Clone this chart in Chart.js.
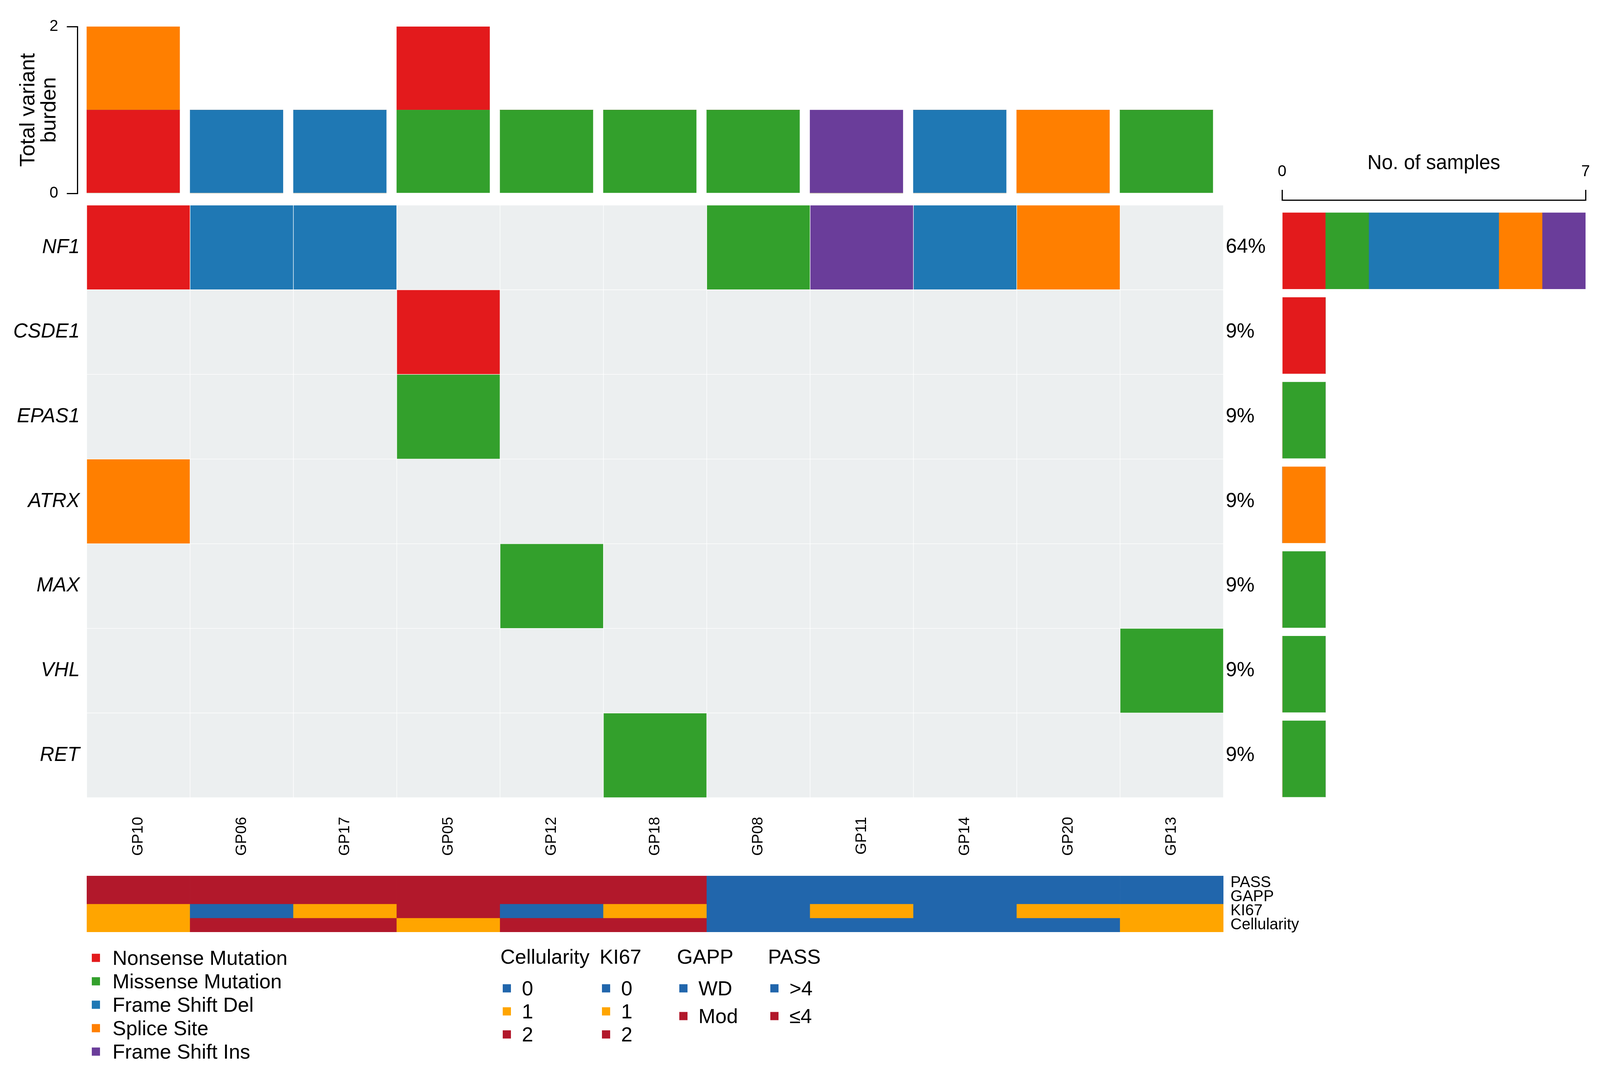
<!DOCTYPE html>
<html>
<head>
<meta charset="utf-8">
<script src="https://cdn.jsdelivr.net/npm/chart.js@4.4.1/dist/chart.umd.min.js"></script>
<style>
  html, body { margin: 0; padding: 0; background: #fff; }
  body { width: 4099px; height: 2757px; position: relative; overflow: hidden;
         font-family: "Liberation Sans", Arial, sans-serif; color: #000; }
  canvas { position: absolute; }
  .lg { position: absolute; font-size: 52px; line-height: 1; white-space: nowrap; transform: translateY(-50%); }
  .sw { position: absolute; width: 21px; height: 21px; transform: translateY(-50%); }
</style>
</head>
<body>
<canvas id="burden" width="3140" height="520" style="left:0;top:0"></canvas>
<canvas id="heat" width="3300" height="1720" style="left:0;top:500px"></canvas>
<canvas id="counts" width="849" height="1720" style="left:3250px;top:350px"></canvas>
<canvas id="tracks" width="3400" height="220" style="left:0;top:2200px"></canvas>
<div id="legend"></div>
<script>
// ---- data ----
const samples = ["GP10", "GP06", "GP17", "GP05", "GP12", "GP18", "GP08", "GP11", "GP14", "GP20", "GP13"];
const genes = ["NF1", "CSDE1", "EPAS1", "ATRX", "MAX", "VHL", "RET"];
const genePct = ["64%", "9%", "9%", "9%", "9%", "9%", "9%"];

const variantTypes = ["Nonsense_Mutation", "Missense_Mutation", "Frame_Shift_Del", "Splice_Site", "Frame_Shift_Ins"];
const variantLabels = ["Nonsense Mutation", "Missense Mutation", "Frame Shift Del", "Splice Site", "Frame Shift Ins"];
const variantColors = ["#E31A1C", "#33A02C", "#1F78B4", "#FF7F00", "#6A3D9A"];
// order the variants are piled up in the top burden bars
const burdenStackOrder = ["Missense_Mutation", "Nonsense_Mutation", "Frame_Shift_Del", "Splice_Site", "Frame_Shift_Ins"];

// one call per sample ("" = no variant)
const NF1   = ["Nonsense_Mutation", "Frame_Shift_Del", "Frame_Shift_Del", "", "", "", "Missense_Mutation", "Frame_Shift_Ins", "Frame_Shift_Del", "Splice_Site", ""];
const CSDE1 = ["", "", "", "Nonsense_Mutation", "", "", "", "", "", "", ""];
const EPAS1 = ["", "", "", "Missense_Mutation", "", "", "", "", "", "", ""];
const ATRX  = ["Splice_Site", "", "", "", "", "", "", "", "", "", ""];
const MAX   = ["", "", "", "", "Missense_Mutation", "", "", "", "", "", ""];
const VHL   = ["", "", "", "", "", "", "", "", "", "", "Missense_Mutation"];
const RET   = ["", "", "", "", "", "Missense_Mutation", "", "", "", "", ""];
const geneCalls = [NF1, CSDE1, EPAS1, ATRX, MAX, VHL, RET];

const burdenTicks = [0, 2];
const sampleCountTicks = [0, 7];

// clinical annotation tracks
const trackNames = ["PASS", "GAPP", "KI67", "Cellularity"];
const PASS = ["≤4", "≤4", "≤4", "≤4", "≤4", "≤4", ">4", ">4", ">4", ">4", ">4"];
const GAPP = ["Mod", "Mod", "Mod", "Mod", "Mod", "Mod", "WD", "WD", "WD", "WD", "WD"];
const KI67 = ["1", "0", "1", "2", "0", "1", "0", "1", "0", "1", "1"];
const Cellularity = ["1", "2", "2", "1", "2", "2", "0", "0", "0", "0", "1"];

const levelKeys = ["0", "1", "2"];
const levelColors = ["#2166AC", "#FFA500", "#B2182B"];
const gappKeys = ["WD", "Mod"];
const gappColors = ["#2166AC", "#B2182B"];
const passKeys = [">4", "≤4"];
const passColors = ["#2166AC", "#B2182B"];

const emptyCell = "#ECEFF0";

Chart.defaults.font.family = '"Liberation Sans", Arial, sans-serif';
Chart.defaults.color = "#000";
const noPlugins = { legend: { display: false }, tooltip: { enabled: false } };
const noGrid = { display: false, drawTicks: false };

function colorOf(type) {
  return type ? variantColors[variantTypes.indexOf(type)] : emptyCell;
}
// fixed axis size, no extra room for half labels at the ends
function fixWidth(w) {
  return s => { s.width = w; s.paddingTop = 0; s.paddingBottom = 0; };
}
function fixHeight(h) {
  return s => { s.height = h; s.paddingLeft = 0; s.paddingRight = 0; };
}

// ---- top: total variant burden per sample ----
new Chart(document.getElementById("burden"), {
  type: "bar",
  data: {
    datasets: burdenStackOrder.map(t => ({
      label: t,
      data: samples.map((s, i) => ({ x: i, y: geneCalls.filter(g => g[i] === t).length })),
      backgroundColor: colorOf(t),
      borderWidth: 0,
      barThickness: 238
    }))
  },
  options: {
    animation: false,
    responsive: false,
    layout: { padding: { top: 68, bottom: 25, left: 0, right: 8 } },
    plugins: noPlugins,
    scales: {
      x: { type: "linear", min: -0.541, max: 10.552, offset: false, stacked: true, display: false },
      y: {
        min: 0, max: 2, stacked: true,
        afterBuildTicks: s => { s.ticks = burdenTicks.map(v => ({ value: v })); },
        afterFit: fixWidth(198),
        grid: { drawOnChartArea: false, tickLength: 27, color: "#000", lineWidth: 3 },
        border: { color: "#000", width: 3 },
        ticks: { font: { size: 40 }, color: "#000", padding: 22 },
        title: {
          display: true, text: ["Total variant", "burden"], color: "#000",
          font: { size: 54, lineHeight: 1.0 }, padding: { top: 46, bottom: 0 }
        }
      }
    }
  }
});

// ---- oncoplot matrix ----
new Chart(document.getElementById("heat"), {
  type: "bar",
  data: {
    labels: samples,
    datasets: genes.map((g, r) => ({
      label: g,
      data: samples.map(() => 1),
      backgroundColor: geneCalls[r].map(colorOf),
      borderColor: "rgba(255,255,255,0.7)",
      borderWidth: 1,
      borderSkipped: false,
      barPercentage: 1,
      categoryPercentage: 1
    }))
  },
  options: {
    animation: false,
    responsive: false,
    layout: { padding: { top: 25, left: 0, right: 0, bottom: 0 } },
    plugins: noPlugins,
    scales: {
      x: {
        stacked: true,
        grid: noGrid, border: { display: false },
        ticks: { font: { size: 39 }, color: "#000", minRotation: 90, maxRotation: 90, autoSkip: false, padding: 49 },
        afterFit: fixHeight(178)
      },
      y: { stacked: true, min: 0, max: 7, reverse: true, display: false },
      genes: {
        type: "category", axis: "y", labels: genes, position: "left", offset: true,
        grid: noGrid, border: { display: false },
        ticks: { font: { size: 51, style: "italic" }, color: "#000", padding: 18, autoSkip: false },
        afterFit: fixWidth(222)
      },
      pct: {
        type: "category", axis: "y", labels: genePct, position: "right", offset: true,
        grid: noGrid, border: { display: false },
        ticks: { font: { size: 51 }, color: "#000", padding: 6, autoSkip: false },
        afterFit: fixWidth(168)
      }
    }
  }
});

// ---- right: number of samples per gene ----
new Chart(document.getElementById("counts"), {
  type: "bar",
  data: {
    datasets: variantTypes.map((t, k) => ({
      label: variantLabels[k],
      data: genes.map((g, r) => ({ y: r, x: geneCalls[r].filter(c => c === t).length })),
      backgroundColor: variantColors[k],
      borderWidth: 0,
      barThickness: 195
    }))
  },
  options: {
    indexAxis: "y",
    animation: false,
    responsive: false,
    layout: { padding: { left: 32, right: 40, top: 0, bottom: 19 } },
    plugins: noPlugins,
    scales: {
      x: {
        type: "linear", position: "top", min: 0, max: 7, stacked: true,
        afterBuildTicks: s => { s.ticks = sampleCountTicks.map(v => ({ value: v })); },
        afterFit: fixHeight(162),
        grid: { drawOnChartArea: false, tickLength: 26, color: "#000", lineWidth: 3 },
        border: { color: "#000", width: 3 },
        ticks: { font: { size: 40 }, color: "#000", padding: 22, maxRotation: 0 },
        title: { display: true, text: "No. of samples", color: "#000", font: { size: 51 }, padding: { top: 38, bottom: 0 } }
      },
      y: { type: "linear", min: -0.6, max: 6.5, reverse: true, offset: false, stacked: true, display: false }
    }
  }
});

// ---- bottom: clinical annotation tracks ----
const trackVals = [PASS, GAPP, KI67, Cellularity];
const trackKeys = [passKeys, gappKeys, levelKeys, levelKeys];
const trackCols = [passColors, gappColors, levelColors, levelColors];

new Chart(document.getElementById("tracks"), {
  type: "bar",
  data: {
    labels: samples,
    datasets: trackNames.map((n, r) => ({
      label: n,
      data: samples.map(() => 1),
      backgroundColor: trackVals[r].map(v => trackCols[r][trackKeys[r].indexOf(v)]),
      borderWidth: 0,
      barPercentage: 1,
      categoryPercentage: 1
    }))
  },
  options: {
    animation: false,
    responsive: false,
    layout: { padding: { top: 42, bottom: 34, left: 222, right: 0 } },
    plugins: noPlugins,
    scales: {
      x: { stacked: true, display: false },
      y: { stacked: true, min: 0, max: 4, reverse: true, display: false },
      lbl: {
        type: "category", axis: "y", labels: trackNames, position: "right", offset: true,
        grid: noGrid, border: { display: false },
        ticks: { font: { size: 40 }, color: "#000", padding: 18, autoSkip: false },
        afterFit: fixWidth(268)
      }
    }
  }
});

// ---- legends ----
const legend = document.getElementById("legend");
function addText(txt, x, y) {
  const d = document.createElement("div");
  d.className = "lg"; d.textContent = txt;
  d.style.left = x + "px"; d.style.top = y + "px";
  legend.appendChild(d);
}
function addSwatch(col, x, y) {
  const d = document.createElement("div");
  d.className = "sw"; d.style.background = col;
  d.style.left = x + "px"; d.style.top = y + "px";
  legend.appendChild(d);
}

variantLabels.forEach((lab, k) => {
  addSwatch(variantColors[k], 235, 2452 + 60 * k);
  addText(lab, 288, 2452 + 60 * k);
});

const annoLegend = [
  { title: "Cellularity", x: 1281, keys: levelKeys, cols: levelColors, step: 59 },
  { title: "KI67", x: 1535, keys: levelKeys, cols: levelColors, step: 59 },
  { title: "GAPP", x: 1733, keys: gappKeys, cols: gappColors, step: 71 },
  { title: "PASS", x: 1966, keys: passKeys, cols: passColors, step: 71 }
];
annoLegend.forEach(g => {
  addText(g.title, g.x, 2449);
  g.keys.forEach((k, j) => {
    addSwatch(g.cols[j], g.x + 6, 2530 + g.step * j);
    addText(k, g.x + 55, 2530 + g.step * j);
  });
});
</script>
</body>
</html>
